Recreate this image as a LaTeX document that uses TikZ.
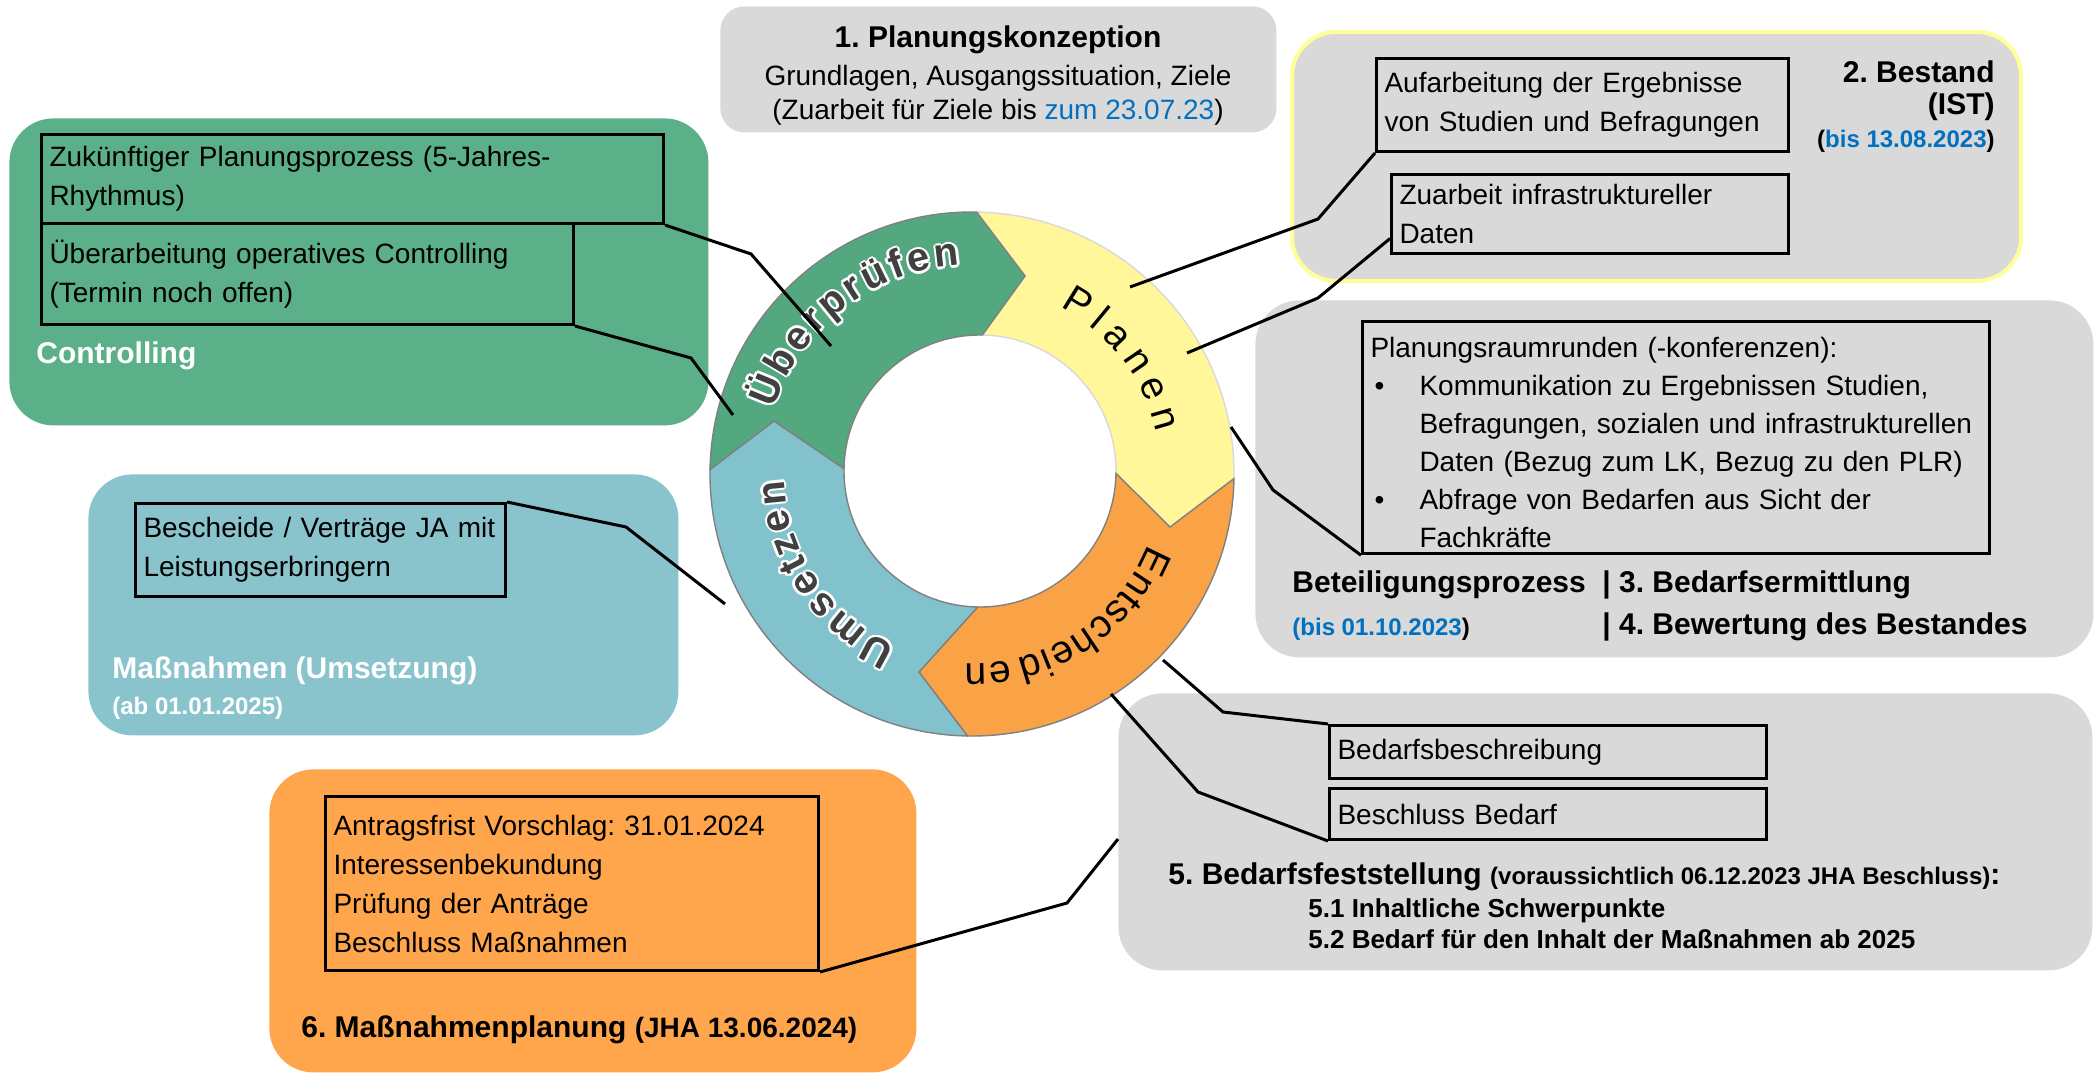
\documentclass[tikz,border=0pt]{standalone}
\usepackage{fontspec}
\setmainfont{Liberation Sans}
\frenchspacing
\usetikzlibrary{decorations.text}

\definecolor{panelgray}{RGB}{217,217,217}
\definecolor{ctrlgreen}{RGB}{91,176,138}
\definecolor{umsteal}{RGB}{137,196,204}
\definecolor{massorange}{RGB}{255,166,77}
\definecolor{bestyellow}{RGB}{255,255,153}
\definecolor{dateblue}{RGB}{0,112,192}
\definecolor{ringyellow}{RGB}{255,247,153}
\definecolor{ringorange}{RGB}{250,162,70}
\definecolor{ringteal}{RGB}{130,194,205}
\definecolor{ringgreen}{RGB}{84,168,128}
\definecolor{ringink}{RGB}{64,64,64}

% letter-spaced words on the ring
\newcommand\ueberword{Ü{\kern1.9pt}b{\kern1.9pt}e{\kern1.9pt}r{\kern1.9pt}p{\kern1.9pt}r{\kern1.9pt}ü{\kern1.9pt}f{\kern1.9pt}e{\kern1.9pt}n}
\newcommand\umsword{U{\kern1.6pt}m{\kern1.6pt}s{\kern1.6pt}e{\kern1.6pt}t{\kern1.6pt}z{\kern1.6pt}e{\kern1.6pt}n}
\newcommand\planword{P{\kern4.2pt}l{\kern4.2pt}a{\kern4.2pt}n{\kern4.2pt}e{\kern4.2pt}n}
\newcommand\entword{E{\kern0.6pt}n{\kern0.6pt}t{\kern0.6pt}s{\kern0.6pt}c{\kern0.6pt}h{\kern0.6pt}e{\kern0.6pt}i{\kern0.6pt}d{\kern4pt}e{\kern0.6pt}n}
\newcommand\ringbold{\fontsize{20}{20}\selectfont\bfseries}
\newcommand\ringplain{\fontsize{19.5}{19.5}\selectfont}

\tikzstyle{panel} = [rectangle,rounded corners=22pt,anchor=north west,inner sep=0pt]
\tikzstyle{itembox} = [draw=black,line width=1.5pt,rectangle,anchor=north west,align=left,inner xsep=4pt,inner ysep=2pt,font=\fontsize{14}{19.5}\selectfont]
\tikzstyle{paneltitle} = [inner sep=0pt,font=\fontsize{15}{18}\selectfont\bfseries]
\tikzstyle{subtitle} = [inner sep=0pt,font=\fontsize{13}{16}\selectfont\bfseries]
\tikzstyle{datelabel} = [inner sep=0pt,font=\fontsize{12}{14}\selectfont\bfseries]
\tikzstyle{lbl} = [inner sep=0pt,font=\fontsize{14}{17}\selectfont]
\tikzstyle{callout} = [draw=black,line width=1.5pt]
\tikzset{ringtext/.style={decorate,decoration={text along path,text align=center,text/.expand once=#1}}}

\begin{document}
\begin{tikzpicture}[x=0.5pt,y=-0.5pt]
	\path [use as bounding box,fill=white] (0,0) rectangle (2096,1075);

	% 1. Planungskonzeption
	\node (konz) [panel,fill=panelgray,rounded corners=12pt,minimum width=278pt,minimum height=63pt] at (720,6) {};
	\node (konztitle) [paneltitle,anchor=base] at (998,48) {1. Planungskonzeption};
	\node (konzziele) [lbl,anchor=base] at (998,86) {Grundlagen, Ausgangssituation, Ziele};
	\node (konzfrist) [lbl,anchor=base] at (998,120) {(Zuarbeit für Ziele bis \textcolor{dateblue}{zum 23.07.23})};

	% 2. Bestand
	\node (bestand) [panel,fill=panelgray,draw=bestyellow,line width=2pt,minimum width=364.5pt,minimum height=124.5pt] at (1290,30) {};
	\node (aufarb) [itembox,text width=198pt,minimum height=46.5pt] at (1375,57) {Aufarbeitung der Ergebnisse\\von Studien und Befragungen};
	\node (zuarb) [itembox,text width=190.5pt,minimum height=39.5pt] at (1390,173) {Zuarbeit infrastruktureller\\Daten};
	\node (bestname) [paneltitle,anchor=base east] at (1995,83) {2. Bestand};
	\node (bestist) [paneltitle,anchor=base east] at (1995,115) {(IST)};
	\node (bestdate) [datelabel,anchor=base east] at (1995,148) {(\textcolor{dateblue}{bis 13.08.2023})};

	% Beteiligungsprozess
	\node (beteil) [panel,fill=panelgray,minimum width=419pt,minimum height=178.5pt] at (1255,300) {};
	\node (plr) [itembox,text width=305.5pt,minimum height=116pt,inner ysep=3pt,font=\fontsize{14}{19}\selectfont] at (1361,320) {\rule{0pt}{15pt}Planungsraumrunden (-konferenzen):\\
		\makebox[24.5pt][l]{\hspace{2pt}\textbullet}Kommunikation zu Ergebnissen Studien,\\
		\hspace*{24.5pt}Befragungen, sozialen und infrastrukturellen\\
		\hspace*{24.5pt}Daten (Bezug zum LK, Bezug zu den PLR)\\
		\makebox[24.5pt][l]{\hspace{2pt}\textbullet}Abfrage von Bedarfen aus Sicht der\\
		\hspace*{24.5pt}Fachkräfte};
	\node (betname) [paneltitle,anchor=base west] at (1292,592) {Beteiligungsprozess};
	\node (bedermitt) [paneltitle,anchor=base west] at (1602,592) {| 3. Bedarfsermittlung};
	\node (betdate) [datelabel,anchor=base west] at (1292,635) {\textcolor{dateblue}{(bis 01.10.2023})};
	\node (bewert) [paneltitle,anchor=base west] at (1602,634) {| 4. Bewertung des Bestandes};

	% Controlling
	\node (ctrl) [panel,fill=ctrlgreen,minimum width=349.5pt,minimum height=153.5pt] at (9,118) {};
	\node (zukunft) [itembox,text width=303pt,minimum height=44.5pt] at (40,133) {Zukünftiger Planungsprozess (5-Jahres-\\Rhythmus)};
	\node (ueberarb) [itembox,text width=258pt,minimum height=50.5pt] at (40,222) {Überarbeitung operatives Controlling\\(Termin noch offen)};
	\node (ctrlname) [paneltitle,text=white,anchor=base west] at (36,363) {Controlling};

	% Massnahmen (Umsetzung)
	\node (umsetz) [panel,fill=umsteal,minimum width=295pt,minimum height=130.5pt] at (88,474) {};
	\node (bescheid) [itembox,text width=177pt,minimum height=46.5pt] at (134,502) {Bescheide / Verträge JA mit\\Leistungserbringern};
	\node (umsname) [paneltitle,text=white,anchor=base west] at (112,678) {Maßnahmen (Umsetzung)};
	\node (umsdate) [datelabel,text=white,anchor=base west] at (112,714) {(ab 01.01.2025)};

	% 6. Massnahmenplanung
	\node (massplan) [panel,fill=massorange,minimum width=323.5pt,minimum height=151.5pt] at (269,769) {};
	\node (antrag) [itembox,text width=238.5pt,minimum height=87pt] at (324,795) {Antragsfrist Vorschlag: 31.01.2024\\Interessenbekundung\\Prüfung der Anträge\\Beschluss Maßnahmen};
	\node (massname) [paneltitle,anchor=base west] at (301,1037) {6. Maßnahmenplanung {\fontsize{14}{17}\selectfont(JHA 13.06.2024)}};

	% 5. Bedarfsfeststellung
	\node (bedfest) [panel,fill=panelgray,minimum width=487pt,minimum height=138.5pt] at (1118,693) {};
	\node (bedbeschr) [itembox,text width=210.5pt,minimum height=26.5pt] at (1328,724) {Bedarfsbeschreibung};
	\node (beschluss) [itembox,text width=210.5pt,minimum height=25.5pt] at (1328,787) {Beschluss Bedarf};
	\node (bedname) [paneltitle,anchor=base west] at (1168,884) {5. Bedarfsfeststellung {\fontsize{12}{14}\selectfont(voraussichtlich 06.12.2023 JHA Beschluss)}:};
	\node (schwer) [subtitle,anchor=base west] at (1308,917) {5.1 Inhaltliche Schwerpunkte};
	\node (inhalt) [subtitle,anchor=base west] at (1308,948) {5.2 Bedarf für den Inhalt der Maßnahmen ab 2025};

	% cycle ring
	\begin{scope}[shift={(972,474)},x=0.5pt,y=0.5pt]
		\foreach \a/\col/\edge in {89/ringyellow/black!15,-1/ringorange/black!50,-91/ringteal/black!50,179/ringgreen/black!50}
			\filldraw [fill=\col,draw=\edge,line width=0.7pt]
				(\a:262) arc [start angle=\a,end angle=\a-90,radius=262]
				-- ({\a-104}:205) -- ([shift={(8,3)}]{\a-90}:136)
				arc [start angle=\a-90,end angle=\a,radius=136]
				-- ({\a-14}:205) -- cycle;
		% white outline behind the bold labels
		\foreach \dx/\dy in {1.2/0,-1.2/0,0/1.2,0/-1.2,0.85/0.85,-0.85/0.85,0.85/-0.85,-0.85/-0.85} {
			\ringbold
			\path [shift={(\dx pt,\dy pt)},ringtext=\ueberword,decoration={text color=white}]
				(180:209) arc [start angle=180,end angle=75,radius=209];
			\path [shift={(\dx pt,\dy pt)},ringtext=\umsword,decoration={text color=white}]
				(-100:188) arc [start angle=-100,end angle=-192,radius=188];
		}
		{\ringbold
		\path [ringtext=\ueberword,decoration={text color=ringink}]
			(180:209) arc [start angle=180,end angle=75,radius=209];
		\path [ringtext=\umsword,decoration={text color=ringink}]
			(-100:188) arc [start angle=-100,end angle=-192,radius=188];
		}
		{\ringplain
		\path [ringtext=\planword]
			(80:189) arc [start angle=80,end angle=-5,radius=189];
		\path [ringtext=\entword]
			(-10:190) arc [start angle=-10,end angle=-104,radius=190];
		}
	\end{scope}

	% callout ends on the ring
	\coordinate (ueberA) at (831,346);
	\coordinate (ueberB) at (733,415);
	\coordinate (planA) at (1130,287);
	\coordinate (planB) at (1187,353);
	\coordinate (planC) at (1231,427);
	\coordinate (entA) at (1163,660);
	\coordinate (entB) at (1111,694);
	\coordinate (umsA) at (725,604);
	\coordinate (antragEnd) at (1118,839);

	\draw [callout] (zukunft.south east) -- (751,254) -- (ueberA);
	\draw [callout] (ueberarb.south east) -- (691,358) -- (ueberB);
	\draw [callout] (bescheid.north east) -- (626,527) -- (umsA);
	\draw [callout] (antrag.south east) -- (1067,903) -- (antragEnd);
	\draw [callout] (bedbeschr.north west) -- (1223,712) -- (entA);
	\draw [callout] (beschluss.south west) -- (1198,792) -- (entB);
	\draw [callout] (plr.south west) -- (1273,490) -- (planC);
	\draw [callout] (aufarb.south west) -- (1318,219) -- (planA);
	\draw [callout] (zuarb.187) -- (1318,298) -- (planB);
\end{tikzpicture}
\end{document}
